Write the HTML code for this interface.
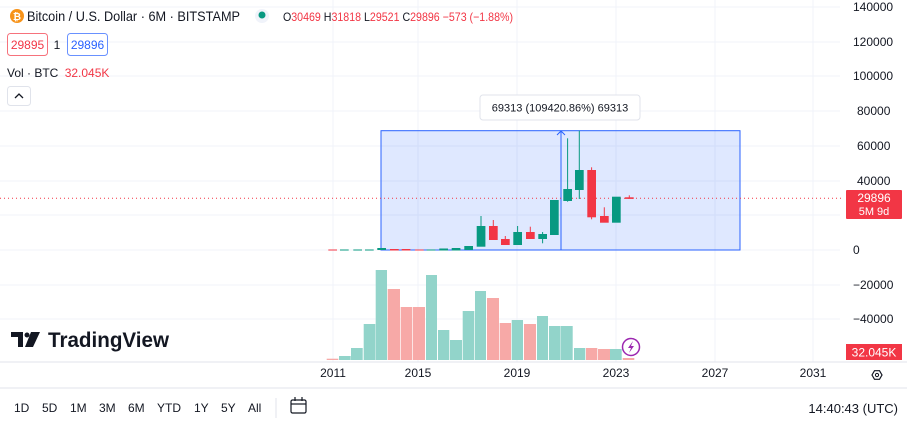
<!DOCTYPE html>
<html><head><meta charset="utf-8"><style>
body{margin:0;background:#fff;width:907px;height:427px;overflow:hidden;font-family:"Liberation Sans",sans-serif;}
svg text{font-family:"Liberation Sans",sans-serif;}
</style></head><body>
<svg width="907" height="427" xmlns="http://www.w3.org/2000/svg">
<g stroke="#f0f3fa" stroke-width="1">
<line x1="0" y1="7" x2="840" y2="7"/><line x1="0" y1="42" x2="840" y2="42"/><line x1="0" y1="76" x2="840" y2="76"/><line x1="0" y1="111" x2="840" y2="111"/><line x1="0" y1="146" x2="840" y2="146"/><line x1="0" y1="181" x2="840" y2="181"/><line x1="0" y1="215" x2="840" y2="215"/><line x1="0" y1="250" x2="840" y2="250"/><line x1="0" y1="285" x2="840" y2="285"/><line x1="0" y1="319" x2="840" y2="319"/>
<line x1="333" y1="0" x2="333" y2="362"/><line x1="418" y1="0" x2="418" y2="362"/><line x1="517" y1="0" x2="517" y2="362"/><line x1="616" y1="0" x2="616" y2="362"/><line x1="715" y1="0" x2="715" y2="362"/><line x1="813" y1="0" x2="813" y2="362"/>
</g>
<line x1="0" y1="362" x2="907" y2="362" stroke="#e0e3eb"/>
<line x1="0" y1="388" x2="907" y2="388" stroke="#e0e3eb"/>
<g>
<rect x="326.7" y="358.7" width="11.6" height="1.3" fill="#f7a9a7"/>
<rect x="339" y="356" width="11.7" height="4" fill="#92d4ca"/>
<rect x="351" y="348" width="11.7" height="12" fill="#92d4ca"/>
<rect x="363.7" y="324" width="11.6" height="36" fill="#92d4ca"/>
<rect x="375.7" y="270" width="11.3" height="90" fill="#92d4ca"/>
<rect x="387.7" y="289" width="12.3" height="71" fill="#f7a9a7"/>
<rect x="400.7" y="307" width="11.6" height="53" fill="#f7a9a7"/>
<rect x="413" y="307" width="12" height="53" fill="#f7a9a7"/>
<rect x="426" y="275" width="11" height="85" fill="#92d4ca"/>
<rect x="438" y="330" width="11.3" height="30" fill="#92d4ca"/>
<rect x="450" y="340" width="12" height="20" fill="#92d4ca"/>
<rect x="462.7" y="311" width="11.6" height="49" fill="#92d4ca"/>
<rect x="475" y="291" width="11" height="69" fill="#92d4ca"/>
<rect x="487" y="298" width="12" height="62" fill="#f7a9a7"/>
<rect x="499.7" y="323" width="11.3" height="37" fill="#f7a9a7"/>
<rect x="511.7" y="320" width="11.3" height="40" fill="#92d4ca"/>
<rect x="524" y="324" width="12" height="36" fill="#f7a9a7"/>
<rect x="537" y="316" width="11" height="44" fill="#92d4ca"/>
<rect x="549" y="326" width="11.3" height="34" fill="#92d4ca"/>
<rect x="560.7" y="326" width="12" height="34" fill="#92d4ca"/>
<rect x="574" y="348" width="11.3" height="12" fill="#92d4ca"/>
<rect x="586" y="348" width="11.3" height="12" fill="#f7a9a7"/>
<rect x="598" y="349" width="12" height="11" fill="#f7a9a7"/>
<rect x="610" y="349" width="11.7" height="11" fill="#92d4ca"/>
<rect x="622.7" y="358" width="11.6" height="2" fill="#f7a9a7"/>
</g>
<rect x="381" y="130.7" width="359" height="119.3" fill="#2962ff" fill-opacity="0.15" stroke="#2962ff" stroke-width="1"/>
<line x1="561" y1="131" x2="561" y2="250" stroke="#2962ff"/>
<polyline points="557,135 561,131 565,135" fill="none" stroke="#2962ff"/>
<rect x="480" y="95" width="160" height="25" rx="3" fill="#fff" stroke="#e0e3eb"/>
<text x="560" y="111.5" font-size="11" fill="#131722" text-anchor="middle">69313 (109420.86%) 69313</text>
<line x1="0" y1="198.3" x2="843" y2="198.3" stroke="#f23645" stroke-dasharray="1,3"/>
<g>
<rect x="328.3" y="249.5" width="8.7" height="1" fill="#f23645"/>
<rect x="340" y="249.5" width="8.7" height="1" fill="#089981"/>
<rect x="353.3" y="249.5" width="8.7" height="1" fill="#089981"/>
<rect x="365" y="249.5" width="8.7" height="1" fill="#089981"/>
<rect x="377.3" y="248" width="8.7" height="2" fill="#089981"/>
<rect x="390" y="249" width="8.7" height="1.5" fill="#f23645"/>
<rect x="401.7" y="249" width="8.7" height="1.5" fill="#f23645"/>
<rect x="415" y="249.5" width="8.7" height="1" fill="#f23645"/>
<rect x="426.7" y="249.5" width="8.7" height="1" fill="#089981"/>
<rect x="439.3" y="248.5" width="8.7" height="2" fill="#089981"/>
<rect x="451.7" y="248" width="8.7" height="2.5" fill="#089981"/>
<rect x="464.3" y="246" width="8.7" height="4" fill="#089981"/>
<line x1="481" y1="216" x2="481" y2="226" stroke="#089981"/><rect x="476.7" y="226" width="8.7" height="20.7" fill="#089981"/>
<line x1="493.3" y1="220" x2="493.3" y2="226" stroke="#f23645"/><rect x="489" y="226" width="8.7" height="14" fill="#f23645"/>
<line x1="505.3" y1="236" x2="505.3" y2="239" stroke="#f23645"/><rect x="501" y="239" width="8.7" height="6" fill="#f23645"/>
<line x1="517.6" y1="226" x2="517.6" y2="232" stroke="#089981"/><rect x="513.3" y="232" width="8.7" height="13" fill="#089981"/>
<line x1="530.3" y1="226.7" x2="530.3" y2="232" stroke="#f23645"/><rect x="526" y="232" width="8.7" height="7" fill="#f23645"/>
<line x1="542.6" y1="232" x2="542.6" y2="243.3" stroke="#089981"/><rect x="538.3" y="234" width="8.7" height="5" fill="#089981"/>
<rect x="550" y="200" width="8.7" height="35" fill="#089981"/>
<line x1="567.6" y1="138.3" x2="567.6" y2="201.7" stroke="#089981"/><rect x="563.3" y="189" width="8.7" height="12" fill="#089981"/>
<line x1="579.3" y1="130.7" x2="579.3" y2="199" stroke="#089981"/><rect x="575" y="170" width="8.7" height="20" fill="#089981"/>
<line x1="591.6" y1="167.3" x2="591.6" y2="219.3" stroke="#f23645"/><rect x="587.3" y="170" width="8.7" height="47.3" fill="#f23645"/>
<line x1="604.3" y1="207.3" x2="604.3" y2="216" stroke="#f23645"/><rect x="600" y="216" width="8.7" height="6.7" fill="#f23645"/>
<rect x="612" y="196.7" width="8.7" height="26" fill="#089981"/>
<line x1="629.3" y1="195.3" x2="629.3" y2="198.7" stroke="#f23645"/><rect x="625" y="197.3" width="8.7" height="1.6" fill="#f23645"/>
</g>
<g font-size="12" fill="#131722" text-anchor="start">
<text x="853" y="11">140000</text><text x="853" y="46">120000</text><text x="853" y="80">100000</text><text x="857" y="115">80000</text><text x="857" y="150">60000</text><text x="857" y="185">40000</text><text x="853" y="254">0</text><text x="853" y="289">−20000</text><text x="853" y="323">−40000</text>
</g>
<rect x="846" y="190" width="56" height="29" rx="1" fill="#f23645"/>
<text x="874" y="202" font-size="12" fill="#fff" text-anchor="middle">29896</text>
<text x="874" y="215" font-size="11" fill="#fff" text-anchor="middle">5M 9d</text>
<rect x="846" y="344" width="56" height="16" fill="#f23645"/>
<text x="874" y="356.5" font-size="12" fill="#fff" text-anchor="middle">32.045K</text>
<g font-size="12" fill="#131722" text-anchor="middle">
<text x="333" y="377">2011</text><text x="418" y="377">2015</text><text x="517" y="377">2019</text><text x="616" y="377">2023</text><text x="715" y="377">2027</text><text x="813" y="377">2031</text>
</g>
<polygon points="872,375 874.5,370.7 879.5,370.7 882,375 879.5,379.3 874.5,379.3" fill="none" stroke="#131722" stroke-width="1.2"/>
<circle cx="877" cy="375" r="1.6" fill="none" stroke="#131722"/>
<circle cx="631" cy="347" r="8.5" fill="#fff" stroke="#9c27b0" stroke-width="1.5"/>
<path d="M633,341 L628,348 L631,348 L629,353 L634,346 L631,346 Z" fill="#9c27b0"/>
<g fill="#131722">
<path d="M11,332 H23 V347 H18 V337 H11 Z"/>
<circle cx="27" cy="335" r="2.5"/>
<path d="M31,332 H40 L33,347 H25 Z"/>
</g>
<text x="48" y="347" font-size="21" font-weight="bold" fill="#131722" textLength="121" lengthAdjust="spacingAndGlyphs">TradingView</text>
<circle cx="17" cy="16" r="7" fill="#f7931a"/>
<text x="17" y="20" font-size="10" fill="#fff" text-anchor="middle" font-weight="bold">₿</text>
<text x="27" y="21" font-size="14" fill="#131722" textLength="213" lengthAdjust="spacingAndGlyphs">Bitcoin / U.S. Dollar · 6M · BITSTAMP</text>
<circle cx="262" cy="16" r="7" fill="#f0f3fa"/>
<circle cx="262" cy="15" r="3.5" fill="#089981"/>
<text x="283" y="21" font-size="12" fill="#131722" textLength="230" lengthAdjust="spacingAndGlyphs">O<tspan fill="#f23645">30469</tspan> H<tspan fill="#f23645">31818</tspan> L<tspan fill="#f23645">29521</tspan> C<tspan fill="#f23645">29896</tspan> <tspan fill="#f23645">−573 (−1.88%)</tspan></text>
<rect x="7.5" y="33.5" width="40" height="22" rx="3" fill="#fff" stroke="#f23645" stroke-opacity="0.7"/>
<text x="27.5" y="49" font-size="12" fill="#f23645" text-anchor="middle">29895</text>
<text x="57" y="49" font-size="12" fill="#131722" text-anchor="middle">1</text>
<rect x="67.5" y="33.5" width="40" height="22" rx="3" fill="#fff" stroke="#2962ff" stroke-opacity="0.7"/>
<text x="87.5" y="49" font-size="12" fill="#2962ff" text-anchor="middle">29896</text>
<text x="7" y="77" font-size="12" fill="#131722">Vol · BTC <tspan fill="#f23645" dx="3">32.045K</tspan></text>
<rect x="7.5" y="86.5" width="23" height="19" rx="3" fill="#fff" stroke="#e0e3eb"/>
<polyline points="15,98 19,94 23,98" fill="none" stroke="#131722" stroke-width="1.3"/>
<g font-size="12" fill="#131722">
<text x="14" y="412">1D</text><text x="42" y="412">5D</text><text x="70" y="412">1M</text><text x="99" y="412">3M</text><text x="128" y="412">6M</text><text x="157" y="412">YTD</text><text x="194" y="412">1Y</text><text x="221" y="412">5Y</text><text x="248" y="412">All</text>
</g>
<line x1="276" y1="398" x2="276" y2="418" stroke="#e0e3eb"/>
<rect x="291" y="400" width="15" height="13" rx="1.5" fill="none" stroke="#131722" stroke-width="1.2"/>
<line x1="291" y1="404" x2="306" y2="404" stroke="#131722" stroke-width="1.2"/>
<line x1="295" y1="397" x2="295" y2="401" stroke="#131722" stroke-width="1.2"/><line x1="302" y1="397" x2="302" y2="401" stroke="#131722" stroke-width="1.2"/>
<text x="898" y="413" font-size="13" fill="#131722" text-anchor="end">14:40:43 (UTC)</text>
</svg>
</body></html>
